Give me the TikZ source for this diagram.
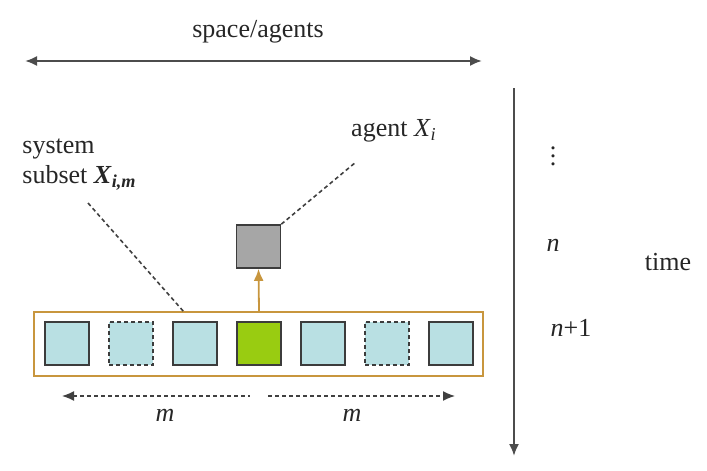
\documentclass[tikz,border=0pt]{standalone}
\usepackage{fontspec}
\setmainfont{Liberation Serif}
\usetikzlibrary{arrows.meta}
\definecolor{gold}{HTML}{C8963E}
\definecolor{paleblue}{HTML}{B9E0E3}
\definecolor{leaf}{HTML}{99CC11}
\definecolor{ink}{HTML}{3C3C3C}
\tikzset{
    cell/.style={draw=ink, line width=0.8pt, fill=paleblue, minimum width=22pt, minimum height=21.5pt, inner sep=0pt},
    ghost/.style={cell, dash pattern=on 2pt off 1.5pt},
    focal/.style={cell, fill=leaf},
    agentbox/.style={cell, fill=black!35},
    lbl/.style={font=\fontsize{13}{15}\selectfont, text=black!85, inner sep=0pt},
    axis/.style={draw=black!70, line width=1pt},
    leader/.style={draw=black!75, dash pattern=on 2pt off 1.5pt, line width=0.8pt},
    tip/.style={-{Latex[length=6pt,width=5pt]}},
}
\begin{document}
\begin{tikzpicture}[x=0.5pt,y=-0.5pt]
        \useasboundingbox (0,0) rectangle (707,471);
        %% Space axis
        \node[lbl] (space) at (258,32) {space/agents};
        \coordinate (sl) at (25,61);
        \coordinate (sr) at (482,61);
        \draw[axis,{Latex[length=6pt,width=5pt]}-{Latex[length=6pt,width=5pt]}] (sl) -- (sr);
        %% Time axis
        \coordinate (tt) at (514,88);
        \coordinate (tb) at (514,456);
        \draw[axis,tip] (tt) -- (tb);
        \node[lbl] (dots) at (553,150) {\vdots};
        \node[lbl] (n) at (553,245) {\textit{n}};
        \node[lbl] (np) at (571,328) {\textit{n}+1};
        \node[lbl] (time) at (668,262) {time};
        %% Row of agents
        \node[draw=gold, line width=0.9pt, minimum width=224.5pt, minimum height=32pt, inner sep=0pt] (subset) at (258.5,343.7) {};
        \foreach \k/\s in {1/cell,2/ghost,3/cell,4/focal,5/cell,6/ghost,7/cell}
            \node[\s] (c\k) at ({3+64*\k},343.5) {};
        %% Agent at time n
        \node[agentbox] (agent) at (258.5,246.5) {};
        \draw[gold, line width=0.9pt, tip] (c4 |- subset.north) -- (agent.south);
        \node[lbl] (agentlbl) at (394,131) {agent \textit{X}\textsubscript{\textit{i}}};
        \coordinate (ag) at (356,162);
        \draw[leader] (agent.north east) -- (ag);
        %% Subset label
        \node[lbl, anchor=north west, align=left] (sublbl) at (22,138)
            {system\\subset \textbf{\textit{X}}\textsubscript{\textbf{\textit{i,m}}}};
        \coordinate (sg) at (88,203);
        \coordinate (sb) at (184,312);
        \draw[leader] (sg) -- (sb);
        %% Neighbourhood width
        \coordinate (ml) at (62,396);
        \coordinate (mc) at (250,396);
        \coordinate (md) at (268,396);
        \coordinate (mr) at (455,396);
        \draw[leader, line width=0.7pt, {Latex[length=6pt,width=5pt]}-] (ml) -- (mc);
        \draw[leader, line width=0.7pt, tip] (md) -- (mr);
        \node[lbl] (m1) at (165,415) {\textit{m}};
        \node[lbl] (m2) at (352,415) {\textit{m}};
\end{tikzpicture}
\end{document}
